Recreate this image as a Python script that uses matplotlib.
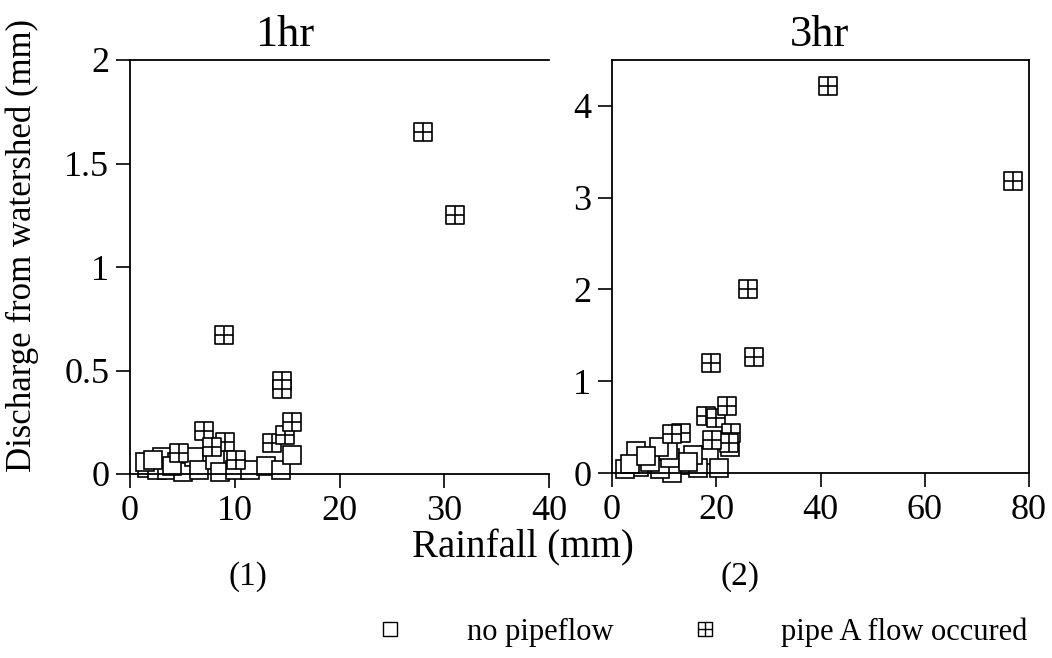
import matplotlib
matplotlib.use("Agg")
import matplotlib.pyplot as plt
from matplotlib.path import Path
from matplotlib.lines import Line2D

plt.rcParams['font.family'] = ['Liberation Serif', 'DejaVu Serif']

# 1hr panel
nopipe_1hr_x = [1.6, 2.6, 3.1, 3.5, 4.5, 5.1, 6.1, 6.6, 8.1, 8.6, 10.0, 11.5, 13.0, 14.4, 15.5, 1.4, 2.2, 4.0]
nopipe_1hr_y = [0.03, 0.02, 0.08, 0.02, 0.06, 0.01, 0.08, 0.02, 0.07, 0.01, 0.02, 0.02, 0.04, 0.02, 0.09, 0.06, 0.07, 0.04]
pipe_1hr_x = [28.0, 31.0, 9.0, 14.5, 14.5, 7.1, 9.1, 7.8, 4.7, 10.1, 13.6, 14.8, 15.5]
pipe_1hr_y = [1.65, 1.25, 0.67, 0.45, 0.41, 0.21, 0.155, 0.13, 0.10, 0.07, 0.15, 0.19, 0.25]

# 3hr panel
nopipe_3hr_x = [18.6, 20.5, 22.6, 16.5, 13.0, 11.5, 9.3, 11.1, 10.8, 4.6, 5.2, 2.5, 7.2, 15.5, 14.5, 9.0, 3.5, 6.5]
nopipe_3hr_y = [0.20, 0.05, 0.28, 0.05, 0.09, 0.00, 0.04, 0.16, 0.25, 0.24, 0.06, 0.04, 0.12, 0.20, 0.12, 0.28, 0.10, 0.18]
pipe_3hr_x = [41.5, 77.0, 26.0, 27.3, 19.0, 18.0, 20.0, 22.1, 22.8, 22.5, 19.2, 13.2, 11.5]
pipe_3hr_y = [4.22, 3.18, 2.01, 1.26, 1.20, 0.62, 0.60, 0.73, 0.44, 0.33, 0.36, 0.44, 0.42]

# square with a cross inside
boxplus = Path(
    [(-1, -1), (1, -1), (1, 1), (-1, 1), (-1, -1), (0, -1), (0, 1), (-1, 0), (1, 0)],
    [Path.MOVETO, Path.LINETO, Path.LINETO, Path.LINETO, Path.CLOSEPOLY,
     Path.MOVETO, Path.LINETO, Path.MOVETO, Path.LINETO])

ms = 13
fs = 26

fig = plt.figure(figsize=(10.52, 6.58), dpi=100)
W, H = 1052, 658
ax1 = fig.add_axes([130 / W, (H - 474) / H, 419 / W, 414 / H])
ax2 = fig.add_axes([612 / W, (H - 473) / H, 417 / W, 413 / H])

for ax, nx, ny, px, py in [(ax1, nopipe_1hr_x, nopipe_1hr_y, pipe_1hr_x, pipe_1hr_y),
                           (ax2, nopipe_3hr_x, nopipe_3hr_y, pipe_3hr_x, pipe_3hr_y)]:
    ax.plot(nx, ny, ls='none', marker='s', ms=ms, mfc='white', mec='black', mew=1.2, clip_on=False)
    ax.plot(px, py, ls='none', marker=boxplus, ms=ms, mfc='white', mec='black', mew=1.2, clip_on=False)
    ax.tick_params(direction='out', length=10, width=1.2, labelsize=fs, pad=5)
    for s in ax.spines.values():
        s.set_linewidth(1.3)

ax1.set_xlim(0, 40)
ax1.set_ylim(0, 2)
ax1.set_xticks([0, 10, 20, 30, 40])
ax1.set_yticks([0, 0.5, 1, 1.5, 2])
ax1.set_yticklabels(['0', '0.5', '1', '1.5', '2'])
ax1.spines['right'].set_visible(False)

ax2.set_xlim(0, 80)
ax2.set_ylim(0, 4.5)
ax2.set_xticks([0, 20, 40, 60, 80])
ax2.set_yticks([0, 1, 2, 3, 4])

fig.text(285 / W, 1 - 35 / H, '1hr', ha='center', va='center', fontsize=32)
fig.text(820 / W, 1 - 35 / H, '3hr', ha='center', va='center', fontsize=32)
fig.text(22 / W, 1 - 245 / H, 'Discharge from watershed (mm)', rotation=90,
         ha='center', va='center', fontsize=25)
fig.text(523 / W, 1 - 548 / H, 'Rainfall (mm)', ha='center', va='center', fontsize=28)
fig.text(248 / W, 1 - 577 / H, '(1)', ha='center', va='center', fontsize=24)
fig.text(740 / W, 1 - 577 / H, '(2)', ha='center', va='center', fontsize=24)

handles = [Line2D([], [], ls='none', marker='s', ms=10, mfc='white', mec='black', mew=1),
           Line2D([], [], ls='none', marker=boxplus, ms=10, mfc='white', mec='black', mew=1)]
fig.legend(handles, ['no pipeflow', 'pipe A flow occured'], loc='center left',
           bbox_to_anchor=(375 / W, 1 - 632 / H), ncol=2, frameon=False, fontsize=22,
           handlelength=1.0, handletextpad=2.0, columnspacing=2.5, borderpad=0, borderaxespad=0)

fig.savefig('out.png', dpi=100)
